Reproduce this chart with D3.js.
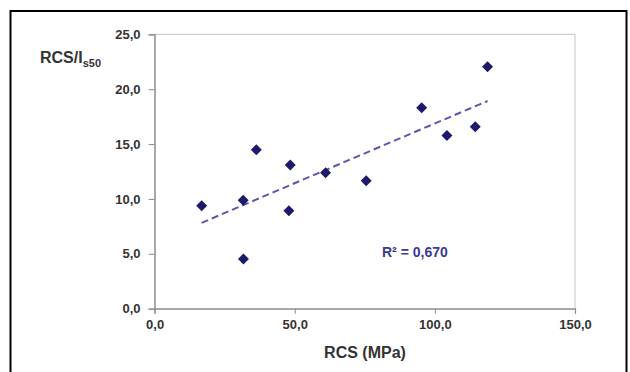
<!DOCTYPE html>
<html><head><meta charset="utf-8">
<script src="https://cdn.jsdelivr.net/npm/d3@7"></script>
<style>body{margin:0;background:#fff}svg{display:block}</style>
</head><body><svg id="c" width="630" height="372"></svg>
<script>
const rcs = [16.8, 31.6, 31.7, 36.3, 48.4, 47.9, 61.0, 75.5, 95.3, 104.3, 114.4, 118.8];
const ratio = [9.38, 9.87, 4.53, 14.48, 13.1, 8.93, 12.39, 11.66, 18.3, 15.79, 16.58, 22.04];
const xTicks = [0, 50, 100, 150];
const yTicks = [0, 5, 10, 15, 20, 25];
const xTitle = "RCS (MPa)";
const yTitleMain = "RCS/I";
const yTitleSub = "s50";
const r2Label = "R² = 0,670";

const svg = d3.select("#c");
const fmt = v => d3.format(".1f")(v).replace(".", ",");
const x = d3.scaleLinear().domain([0, 150]).range([154.6, 575]);
const y = d3.scaleLinear().domain([0, 25]).range([308.7, 34.3]);

// outer frame
svg.append("rect").attr("x", 10.5).attr("y", 11).attr("width", 616).attr("height", 380)
  .attr("fill", "none").attr("stroke", "#000").attr("stroke-width", 2);

// plot area border
svg.append("rect").attr("x", x(0)).attr("y", y(25)).attr("width", x(150) - x(0)).attr("height", y(0) - y(25))
  .attr("fill", "none").attr("stroke", "#c4c4c4").attr("stroke-width", 1);

const font = "Liberation Sans, Arial, sans-serif";
const xAxis = svg.append("g").attr("transform", `translate(0,${y(0)})`)
  .call(d3.axisBottom(x).tickValues(xTicks).tickFormat(fmt).tickSize(5).tickPadding(6));
const yAxis = svg.append("g").attr("transform", `translate(${x(0)},0)`)
  .call(d3.axisLeft(y).tickValues(yTicks).tickFormat(fmt).tickSize(6).tickPadding(8));
[xAxis, yAxis].forEach(g => {
  g.select(".domain").attr("stroke", "#8a8a8a").attr("stroke-width", 1.2);
  g.selectAll(".tick line").attr("stroke", "#8a8a8a");
  g.selectAll(".tick text").attr("font-family", font).attr("font-size", 13)
    .attr("font-weight", "bold").attr("fill", "#333");
});

// regression line
const mx = d3.mean(rcs), my = d3.mean(ratio);
let sxy = 0, sxx = 0;
rcs.forEach((v, i) => { sxy += (v - mx) * (ratio[i] - my); sxx += (v - mx) ** 2; });
const slope = sxy / sxx, icpt = my - slope * mx;
const [x0, x1] = d3.extent(rcs);
svg.append("line").attr("x1", x(x0)).attr("y1", y(icpt + slope * x0))
  .attr("x2", x(x1)).attr("y2", y(icpt + slope * x1))
  .attr("stroke", "#5a58a8").attr("stroke-width", 2).attr("stroke-dasharray", "7,4");

// points
const diamond = "M0,-5.5L5.5,0L0,5.5L-5.5,0Z";
svg.append("g").selectAll("path").data(rcs).join("path")
  .attr("d", diamond)
  .attr("transform", (d, i) => `translate(${x(d)},${y(ratio[i])})`)
  .attr("fill", "#1e1a6a");

// R² label
svg.append("text").attr("x", 382).attr("y", 257).attr("font-family", font)
  .attr("font-size", 14).attr("font-weight", "bold").attr("fill", "#3b3a8e").text(r2Label);

// axis titles
svg.append("text").attr("x", 365).attr("y", 358).attr("text-anchor", "middle")
  .attr("font-family", font).attr("font-size", 16).attr("font-weight", "bold").attr("fill", "#333").text(xTitle);
const yt = svg.append("text").attr("x", 40).attr("y", 63)
  .attr("font-family", font).attr("font-size", 16).attr("font-weight", "bold").attr("fill", "#333");
yt.append("tspan").text(yTitleMain);
yt.append("tspan").attr("font-size", 11).attr("dy", 4).text(yTitleSub);
</script></body></html>
